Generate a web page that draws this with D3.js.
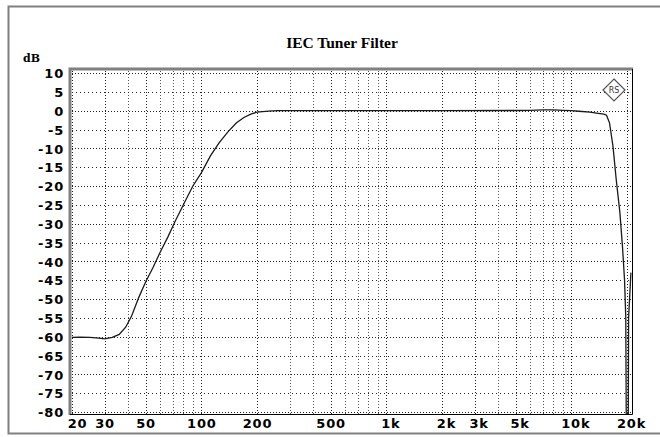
<!DOCTYPE html>
<html><head><meta charset="utf-8">
<script src="https://cdn.jsdelivr.net/npm/d3@7"></script>
<style>
html,body{margin:0;padding:0;background:#fff;}
svg{display:block;}
</style></head>
<body>
<script>
const freqHz = [20,22,25,28,30,33,36,39,42,46,50,55,60,66,72,80,90,100,112,125,140,155,170,185,200,230,260,500,1000,2000,5000,6000,7000,8000,9000,10000,11000,12600,14000,15000,15500,16100,16800,17500,18300,18900,19400,19700,19850,20300,20400,21000];
const levelDb = [-60.2,-60.1,-60.2,-60.4,-60.6,-60.2,-59.4,-57.5,-54.5,-49.5,-45.5,-41.5,-37.5,-33.5,-29.5,-25,-20,-16.5,-12,-8.5,-5.5,-3.2,-1.8,-0.9,-0.4,-0.1,0,0,0,0,0.05,0.1,0.2,0.2,0.1,0,-0.15,-0.4,-0.7,-0.9,-1.2,-3.3,-9.5,-18.4,-27,-36,-45,-55,-90,-90,-55,-43];
const yTickVals = [10,5,0,-5,-10,-15,-20,-25,-30,-35,-40,-45,-50,-55,-60,-65,-70,-75,-80];
const xTickVals = [20,30,50,100,200,500,1000,2000,3000,5000,10000,20000];
const xTickLabels = ["20","30","50","100","200","500","1k","2k","3k","5k","10k","20k"];
const xGridVals = [20,30,40,50,60,70,80,90,100,200,300,400,500,600,700,800,900,1000,2000,3000,4000,5000,6000,7000,8000,9000,10000,20000];
const titleText = "IEC Tuner Filter";
const unitText = "dB";

const W = 660, H = 437;
const svg = d3.select("body").append("svg").attr("width", W).attr("height", H);

// outer border
svg.append("path").attr("d","M660,6.5 H8.5 V433.5 H660").attr("fill","none").attr("stroke","#808080").attr("stroke-width",2);

const x = d3.scaleLog().domain([20,20000]).range([72,627]);
const y = d3.scaleLinear().domain([-80,10]).range([412,73]);

const fL = 70, fR = 633, fT = 69, fB = 415;

// grid
const g = svg.append("g");
xGridVals.forEach(v=>{
  const major = xTickVals.includes(v);
  g.append("line").attr("x1",Math.round(x(v))+0.5).attr("x2",Math.round(x(v))+0.5)
   .attr("y1",fT+2).attr("y2",fB-1)
   .attr("stroke", major?"#222":"#555").attr("stroke-width",1)
   .attr("stroke-dasharray", "1,2");
});
yTickVals.forEach(v=>{
  const major = v % 10 === 0;
  g.append("line").attr("y1",Math.round(y(v))+0.5).attr("y2",Math.round(y(v))+0.5)
   .attr("x1",fL+2).attr("x2",fR-1)
   .attr("stroke","#222").attr("stroke-width",1)
   .attr("stroke-dasharray", major?"1,2":"1,3");
});

// frame
svg.append("path").attr("d",`M${fL},${fB} V${fT} H${fR}`).attr("fill","none").attr("stroke","#808080").attr("stroke-width",3);
svg.append("path").attr("d",`M${fR-0.5},${fT} V${fB-0.5} H${fL}`).attr("fill","none").attr("stroke","#000").attr("stroke-width",1);

// clip
svg.append("clipPath").attr("id","clp").append("rect").attr("x",fL+1).attr("y",fT+1).attr("width",fR-fL-2).attr("height",fB-fT-2);

const line = d3.line().x((d,i)=>x(freqHz[i])).y(d=>y(d));
svg.append("path").datum(levelDb).attr("clip-path","url(#clp)")
  .attr("d",line).attr("fill","none").attr("stroke","#1a1a1a").attr("stroke-width",1.3);

// y labels
const yAxis = d3.axisLeft(y).tickValues(yTickVals).tickSize(0).tickPadding(0).tickFormat(d=>String(d));
const ya = svg.append("g").attr("transform","translate(64,0)").call(yAxis);
ya.select(".domain").remove();
ya.selectAll("text").attr("font-family","DejaVu Sans").attr("font-weight","bold").attr("font-size","13px").attr("letter-spacing","0.8px").attr("fill","#000").attr("dy","0.36em");

// x labels
const xAxis = d3.axisBottom(x).tickValues(xTickVals).tickSize(0).tickPadding(0).tickFormat((d,i)=>xTickLabels[i]);
const xa = svg.append("g").attr("transform","translate(0,419)").call(xAxis);
xa.select(".domain").remove();
xa.selectAll("text").attr("font-family","DejaVu Sans").attr("font-weight","bold").attr("font-size","13px").attr("letter-spacing","0.8px").attr("fill","#000").attr("dy","0.71em")
  .attr("dx",(d,i)=> i===0 ? 5 : (xTickLabels[i].endsWith("k") ? 4 : 0));

// title
svg.append("text").attr("x",342).attr("y",48).attr("text-anchor","middle")
  .attr("font-family","Liberation Serif").attr("font-weight","bold").attr("font-size","15.5px").text(titleText);
svg.append("text").attr("x",23).attr("y",62)
  .attr("font-family","DejaVu Serif").attr("font-weight","bold").attr("font-size","11px").text(unitText);

// logo
const lg = svg.append("g").attr("transform","translate(614,90)");
lg.append("path").attr("d","M0,-11 L11,0 L0,11 L-11,0 Z").attr("fill","#fff").attr("stroke","#555").attr("stroke-width",1.2);
lg.append("text").attr("x",0).attr("y",3).attr("text-anchor","middle").attr("font-family","DejaVu Sans").attr("font-size","8px").attr("fill","#333").text("RS");
</script>
</body></html>
